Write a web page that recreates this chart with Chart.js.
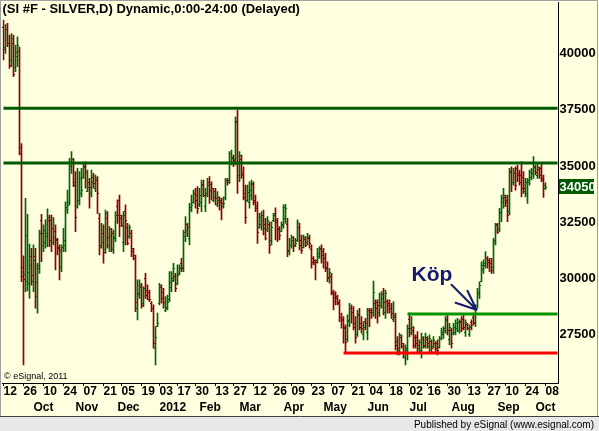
<!DOCTYPE html>
<html>
<head>
<meta charset="utf-8">
<script src="https://cdn.jsdelivr.net/npm/chart.js@4.4.1/dist/chart.umd.min.js"></script>
<style>
  html, body { margin: 0; padding: 0; background: #ffffe0; }
  canvas { display: block; }
</style>
</head>
<body>
<canvas id="chart" width="599" height="431"></canvas>
<script>
// Daily bars, SI #F silver, Sep 12 2011 .. Oct 8 2012 (price in cents)
var opens = [
  41200,40300,41100,40500,39700,40500,39400,39900,40100,35600,30500,30200,29900,29800,31000,29900,31000,29200,30600,32600,
  31500,31600,31900,32600,32600,31600,32100,31700,31400,30500,31400,31500,33100,33400,35000,35200,34300,33200,33500,33800,
  34500,35000,33900,34300,33800,34500,34000,34400,32700,31400,32000,31300,32700,31500,32200,31300,31800,33200,33500,32700,
  31600,33000,32300,31900,32000,31200,30900,28700,29300,29600,28900,30000,29500,29400,28900,28700,26900,27900,28900,29600,
  29400,28600,28700,29100,29600,30000,30100,29800,30250,30700,30500,31900,32400,31800,33100,33400,33800,33700,33300,33400,
  34200,33200,33800,34300,34200,33500,33900,33300,33600,33500,33200,33600,34400,34400,35200,35400,35300,37000,34600,35300,
  34700,33800,33500,33400,33700,34200,33500,33200,32300,32400,32800,32400,32200,32400,31700,32600,32900,32500,32200,32100,
  32400,32700,32400,31200,31500,31700,31450,31700,32300,31700,31400,31750,31600,31800,31300,30900,30800,30800,31000,31300,
  31200,30900,30500,30000,30100,29400,29300,29200,28900,28300,28200,27800,27300,28100,28700,28500,28000,27500,28400,28000,
  27500,28100,27600,28600,28600,28500,28900,28950,28500,28800,29300,28500,29000,28900,28700,28200,28300,27200,26800,27400,
  27000,26500,26800,28200,27600,27700,27400,27400,26900,26800,27300,27000,27300,27000,27200,27000,27100,27100,26950,27350,
  27500,27700,28200,27300,27700,27550,27600,27800,27700,28100,28200,27600,27950,27500,28050,28300,28000,28800,29300,29900,
  30400,30600,30900,30800,30700,30500,31700,32400,32200,32900,33400,33600,33500,33000,34800,34300,34700,34900,34700,34600,
  34500,33900,33800,34300,34500,34700,34950,34600,34850,34900,34400,34000
];
var highs = [
  41500,41300,41350,40830,40900,40830,40380,40750,40300,36000,31000,33560,32850,31520,31340,31490,31340,30670,32150,32850,
  32380,32600,33090,32820,32820,32700,32380,31780,31490,31490,32230,33410,33930,35340,35640,35340,34750,34900,34750,34900,
  35120,35190,34820,34450,34820,34670,34600,34530,32890,32450,32380,33040,32970,32300,32230,32150,32970,33490,33710,32820,
  32970,33270,32450,32380,32150,31340,31040,29930,29930,29780,29630,30220,29710,29480,28960,28820,27850,28450,29780,29710,
  29560,29190,29260,30300,30300,30670,30220,30600,30600,30890,32150,32750,32450,33340,33710,33930,34010,34080,34010,34380,
  34380,34010,34450,34530,34300,34010,34010,33860,33630,33560,33630,34450,34450,35640,35710,35490,37190,37490,35640,35490,
  34970,34150,34150,34300,34380,34300,33710,33410,32890,32970,33040,32670,32750,32520,32520,32890,33140,32670,32300,32520,
  33270,33290,32670,31780,31930,31860,31780,32600,32450,31930,31930,31860,32000,31930,31490,30970,30820,31340,31410,31490,
  31340,31110,30740,30450,30220,29480,29410,29260,29040,28450,28300,27930,28370,28890,28820,28740,28300,28590,28670,28300,
  28070,28220,28670,28670,28670,29880,29040,29040,29340,29410,29560,29480,29040,29040,28890,28960,28450,27410,27560,27480,
  27110,27040,27930,28460,28300,27850,27480,27630,27260,27560,27410,27560,27410,27480,27260,27410,27180,27260,27410,27780,
  27850,28300,28370,28000,27780,28000,28150,28220,28150,28300,28370,28150,28000,27930,28150,28450,28820,29560,29850,30740,
  30820,31190,30970,30890,30890,31780,32450,32450,33120,33710,34010,33710,33710,34900,34970,34900,34970,35040,34820,35190,
  34750,34450,34450,34820,34900,35420,35040,35120,34970,35120,34600,34250
];
var lows = [
  39720,40010,40310,39350,39420,38980,39200,39420,35500,29850,26150,29410,29440,29110,29700,29410,28670,28450,30220,30740,
  31190,31340,31410,31410,31190,31490,30370,31040,29930,30300,31190,31190,32890,33270,34670,34080,32080,33120,33270,33630,
  34450,34010,33860,33120,33630,34010,33860,32890,31040,31340,30670,31110,31340,31190,31190,31110,31630,32450,31860,32300,
  31190,31490,31490,31780,30970,30820,28520,28150,29110,28670,28740,29110,29040,28960,28520,26890,26150,27850,28820,28890,
  28670,28520,28590,28960,29410,29850,29410,29710,30150,30300,30300,31630,31860,31490,32970,33340,33120,32890,33190,32970,
  33630,32970,33630,33340,33490,33410,33270,33190,33040,32600,33120,33490,34150,34230,35050,34970,35050,33780,34300,34450,
  33490,32450,33410,33120,33490,33270,32970,31560,32230,32150,31930,31710,32080,31110,31490,32520,31710,31630,31710,32080,
  32230,32450,30970,31040,31340,31190,31410,31630,31260,31110,31340,31410,31490,31340,30450,30600,29930,30670,30890,30670,
  30450,30300,29850,29780,29260,28590,28820,28820,28070,27780,27110,26740,27180,27850,28000,27700,27110,27410,27700,27560,
  27260,27700,27260,27850,28220,28300,28220,28000,28300,28670,28370,28220,28450,28450,28220,28070,26810,26590,26590,26890,
  26440,26150,26370,27390,27480,26890,26890,26740,26740,26440,26890,26890,26890,26740,26740,26890,26670,26590,26890,27260,
  27330,27560,27480,27040,26890,27480,27480,27630,27560,27630,27700,27410,27700,27410,27700,27930,27850,28670,29110,29850,
  30220,30450,30450,30300,30220,30220,31490,32000,32080,32520,33120,33190,32520,32820,33860,34150,33930,34300,34150,33630,
  33780,33630,33340,34150,34380,34450,34600,34450,34450,34300,33600,33960
];
var closes = [
  40230,41120,40460,39490,40680,39120,40090,40410,35850,30100,29950,31930,30300,30600,30150,30820,29850,30450,32000,32000,
  32150,32000,32750,31710,32230,31860,31750,31340,31260,31410,31710,33190,33270,35190,35300,34150,32750,33490,34450,33930,
  34970,34750,34080,34080,34300,34230,34450,33780,31490,31630,31190,32890,31860,31930,32000,31860,32820,32820,32820,32380,
  32820,32600,31560,32300,31340,31040,28960,29330,29710,28820,29560,29260,29080,29080,28670,27110,27410,28000,29710,29110,
  28960,28740,28960,29850,29930,30450,29560,30150,30450,30450,32080,32150,32300,33190,33270,33780,33490,33120,33710,34150,
  33710,33710,34150,33930,34010,33630,33560,33490,33410,33340,33340,34380,34300,35560,35340,35270,36970,34600,35490,34600,
  33630,32750,33860,33930,34230,33410,33120,32080,32750,32600,32230,31780,32600,31490,32300,32820,32600,32230,31930,32380,
  33190,33120,31260,31490,31860,31490,31560,32520,31490,31260,31860,31490,31860,31560,30740,30740,30740,31110,31340,31040,
  30890,30450,30080,30300,29330,29190,29110,28960,28300,28150,27850,27180,28150,28670,28520,27850,27410,28370,27850,27780,
  27850,28000,28590,28520,28520,29410,28670,28820,28960,29110,28960,29330,28820,28670,28450,28370,27040,26890,27480,27110,
  26740,26890,27780,27780,27850,27040,27110,27040,27180,27410,27040,27410,27110,27330,26890,27260,26890,26810,27330,27630,
  27780,28150,27700,27850,27110,27850,28000,28070,28070,27780,27850,28070,27780,27850,27930,28070,28670,29410,29710,30600,
  30670,30890,30740,30670,30370,31630,32380,32080,32970,33560,33710,33410,32820,34750,34300,34670,34150,34600,34300,34010,
  34010,34300,34380,34750,34820,35120,34750,34970,34600,34450,34150,34050
];
var blankBars = 6;

// x axis tick labels (trading-day index -> text)
var dayTickIdx  = [0,10,20,30,40,50,59,69,78,87,96,106,115,125,135,144,154,164,174,183,193,203,212,222,232,242,251,261,271];
var dayTickText = ["12","26","10","24","07","21","05","19","03","17","30","13","27","12","26","09","23","07","21","04","18","02","16","30","13","27","10","24","08"];
var monthIdx  = [15,36,57,78,98,118,140,160,182,203,224,247,266];
var monthText = ["Oct","Nov","Dec","2012","Feb","Mar","Apr","May","Jun","Jul","Aug","Sep","Oct"];

// y axis
var yTicks = [27500,30000,32500,35000,37500,40000];
var yMin = 25340, yMax = 41520;

// drawn levels
var resistLevels = [37575, 35135];
var buyLevel = 28414, buyFrom = 202;
var supportLevel = 26678, supportFrom = 170;
var lastValue = 34050;
var buyIdx = 236, buyValue = 28600;

var UP = "#006400";
var DOWN = "#8b0000";
var FONT = "'Liberation Sans', Arial, sans-serif";

var labels = [];
for (var i = 0; i < closes.length + blankBars; i++) labels.push(i);
var lastIdx = labels.length - 1;

var ranges = [];
var barColors = [];
for (var i = 0; i < closes.length; i++) {
  ranges.push([lows[i], highs[i]]);
  barColors.push(closes[i] >= opens[i] ? UP : DOWN);
}

function levelLine(y, from, color) {
  return {
    type: "line",
    data: [{ x: from, y: y }, { x: lastIdx, y: y }],
    borderColor: color,
    borderWidth: 3,
    pointRadius: 0,
    borderCapStyle: "butt"
  };
}

// background + frame, open/close ticks, annotations
var decor = {
  id: "decor",
  beforeDraw: function (chart) {
    var c = chart.ctx;
    c.save();
    c.fillStyle = "#ffffe0";
    c.fillRect(0, 0, chart.width, 417);
    c.fillStyle = "#e8e8e8";
    c.fillRect(0, 417, chart.width, chart.height - 417);
    c.restore();
  },
  afterDatasetDraw: function (chart, args) {
    if (args.index !== 4) return;
    var c = chart.ctx;
    var xs = chart.scales.x, ys = chart.scales.y;
    c.save();
    for (var i = 0; i < closes.length; i++) {
      var x = Math.floor(xs.getPixelForValue(i));
      c.fillStyle = barColors[i];
      c.fillRect(x - 1, Math.round(ys.getPixelForValue(opens[i])), 1, 1);
      c.fillRect(x + 1, Math.round(ys.getPixelForValue(closes[i])), 1, 1);
    }
    c.restore();
  },
  afterDraw: function (chart) {
    var c = chart.ctx;
    var a = chart.chartArea;
    var xs = chart.scales.x, ys = chart.scales.y;
    c.save();

    // axis line up to the top
    c.strokeStyle = "#000";
    c.lineWidth = 1;
    c.beginPath();
    c.moveTo(Math.floor(a.right) + 0.5, 2);
    c.lineTo(Math.floor(a.right) + 0.5, a.top);
    c.stroke();

    // frame
    c.strokeStyle = "#a0a0a0";
    c.beginPath();
    c.moveTo(0.5, 417); c.lineTo(0.5, 0.5); c.lineTo(597.5, 0.5); c.lineTo(597.5, 417);
    c.stroke();
    c.strokeStyle = "#404040";
    c.beginPath();
    c.moveTo(0, 416.5); c.lineTo(chart.width, 416.5);
    c.stroke();

    // last value box
    var ly = ys.getPixelForValue(lastValue);
    c.fillStyle = "#005a00";
    c.fillRect(Math.floor(a.right) + 1, Math.round(ly) - 8, 35, 15);
    c.fillStyle = "#ffffff";
    c.font = "bold 13px " + FONT;
    c.textBaseline = "middle";
    c.textAlign = "left";
    c.fillText(String(lastValue), Math.floor(a.right) + 1.5, ly);

    // buy arrow + label
    var tx = xs.getPixelForValue(buyIdx) + 1;
    var ty = ys.getPixelForValue(buyValue);
    c.strokeStyle = "#141a6e";
    c.lineWidth = 2;
    c.lineCap = "round";
    c.beginPath();
    c.moveTo(tx - 25, ty - 25); c.lineTo(tx, ty);
    c.moveTo(tx - 9, ty - 19); c.lineTo(tx, ty);
    c.moveTo(tx - 21, ty - 7); c.lineTo(tx, ty);
    c.stroke();
    c.fillStyle = "#141a6e";
    c.font = "bold 21px " + FONT;
    c.textBaseline = "alphabetic";
    c.fillText("Köp", tx - 65, ty - 29);

    // small texts
    c.fillStyle = "#000";
    c.font = "9px " + FONT;
    c.fillText("\u00a9 eSignal, 2011", 4, 379);
    c.font = "10px " + FONT;
    c.textAlign = "right";
    c.fillText("Published by eSignal (www.esignal.com)", 594, 428);
    c.restore();
  }
};

new Chart(document.getElementById("chart"), {
  type: "bar",
  data: {
    labels: labels,
    datasets: [
      levelLine(resistLevels[0], 0, "#005a00"),
      levelLine(resistLevels[1], 0, "#005a00"),
      levelLine(buyLevel, buyFrom, "#009600"),
      levelLine(supportLevel, supportFrom, "#ff0000"),
      {
        type: "bar",
        data: ranges,
        backgroundColor: barColors,
        borderWidth: 0,
        barThickness: 1
      }
    ]
  },
  options: {
    responsive: false,
    animation: false,
    devicePixelRatio: 1,
    layout: { padding: { left: 2.5, right: 0, top: 0, bottom: 14 } },
    plugins: {
      legend: { display: false },
      tooltip: { enabled: false },
      title: {
        display: true,
        text: "(SI #F - SILVER,D) Dynamic,0:00-24:00 (Delayed)",
        align: "start",
        color: "#000",
        font: { family: FONT, size: 13, weight: "bold" },
        padding: { top: 2, bottom: 2 }
      }
    },
    scales: {
      x: {
        type: "category",
        offset: true,
        grid: {
          display: true,
          offset: false,
          drawOnChartArea: false,
          drawTicks: true,
          tickLength: 3,
          color: function (ctx) {
            return dayTickIdx.indexOf(ctx.index) >= 0 ? "#000" : "rgba(0,0,0,0)";
          }
        },
        border: { display: true, color: "#000", width: 1 },
        ticks: {
          autoSkip: false,
          maxRotation: 0,
          minRotation: 0,
          align: "start",
          padding: -2,
          color: "#000",
          font: { family: FONT, size: 12, weight: "bold", lineHeight: 1.33 },
          callback: function (v, i) {
            var d = dayTickIdx.indexOf(i);
            var m = monthIdx.indexOf(i);
            if (d < 0 && m < 0) return "";
            return [d >= 0 ? dayTickText[d] : "", m >= 0 ? monthText[m] : ""];
          }
        },
        afterFit: function (s) { s.height = 34; }
      },
      y: {
        type: "linear",
        position: "right",
        min: yMin,
        max: yMax,
        grid: { display: false, drawTicks: false, tickLength: 0 },
        border: { display: true, color: "#000", width: 1 },
        ticks: {
          autoSkip: false,
          padding: 1,
          crossAlign: "near",
          color: "#000",
          font: { family: FONT, size: 13, weight: "bold" },
          callback: function (v) { return String(v); }
        },
        afterBuildTicks: function (s) {
          s.ticks = yTicks.map(function (v) { return { value: v }; });
        },
        afterFit: function (s) { s.width = 40.5; }
      }
    }
  },
  plugins: [decor]
});
</script>
</body>
</html>
